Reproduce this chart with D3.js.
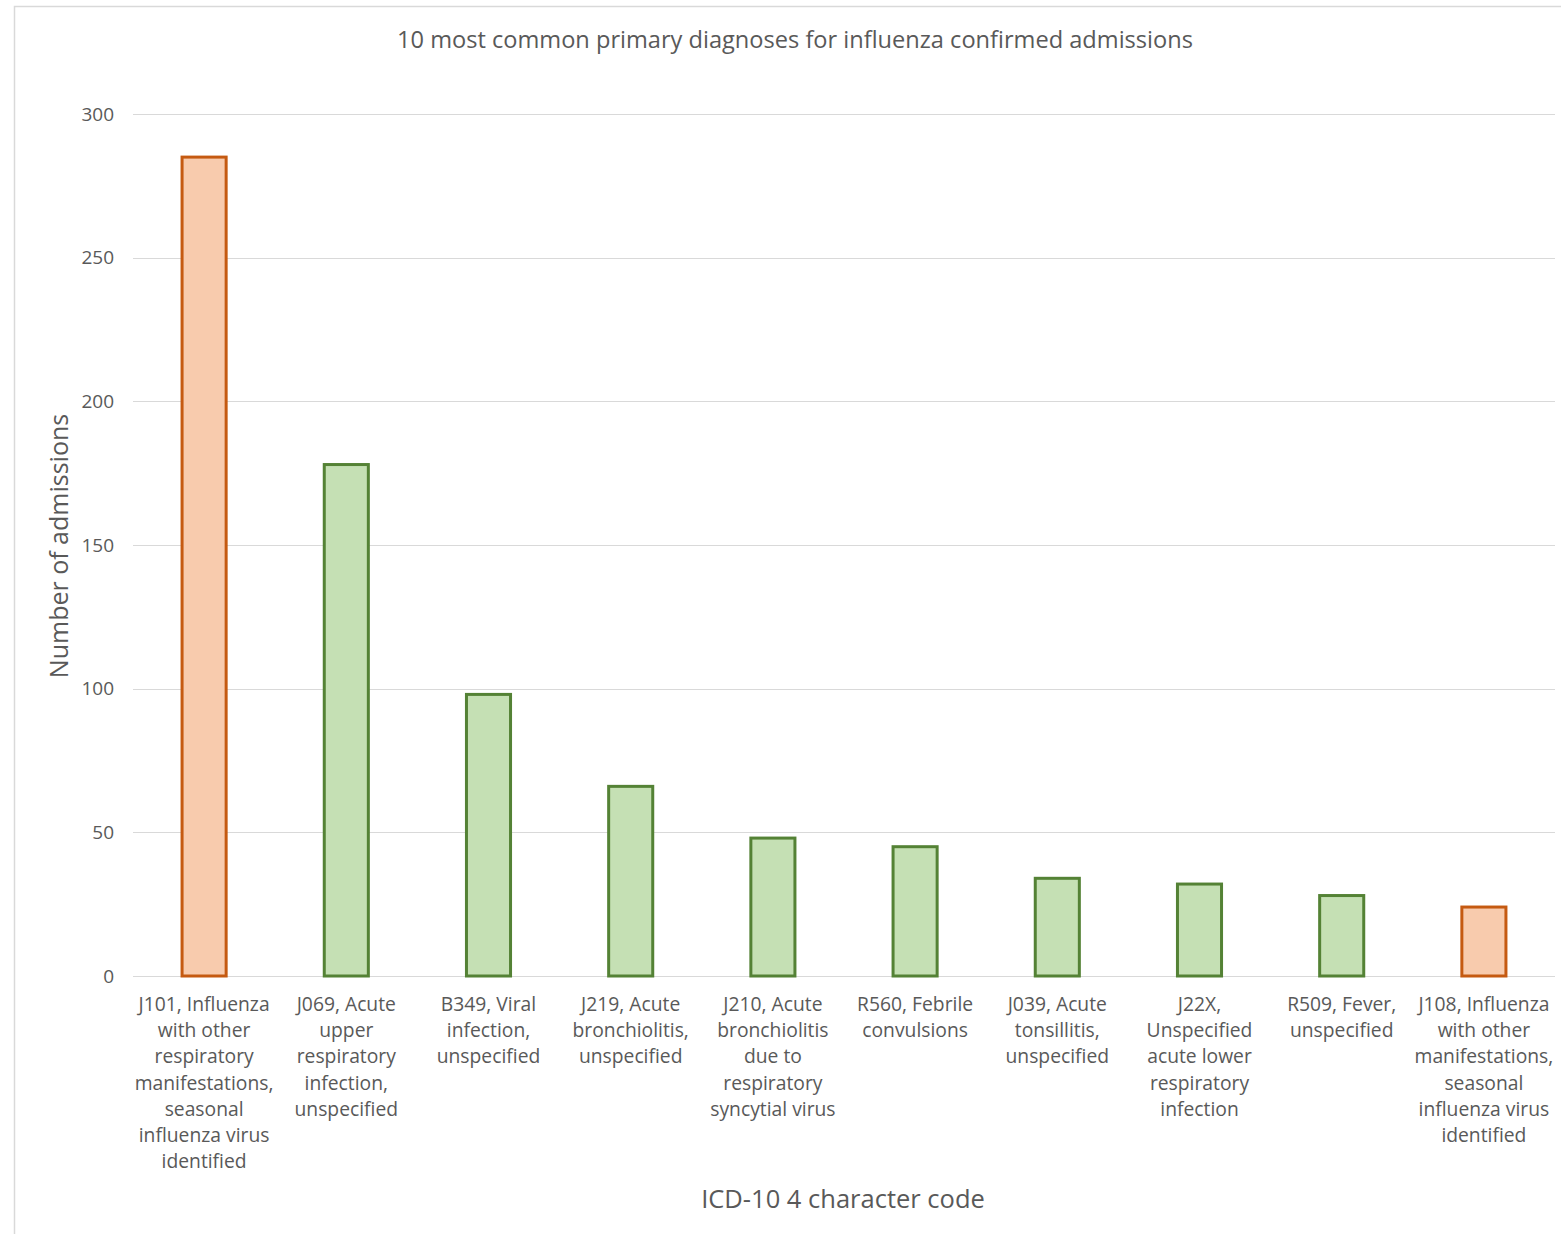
<!DOCTYPE html>
<html lang="en">
<head>
<meta charset="UTF-8">
<script src="https://d3js.org/d3.v7.min.js"></script>
<style>
  body { margin: 0; background: #fff; }
  text { font-family: "Open Sans", sans-serif; fill: #595959; }
  .grid line { stroke: #d9d9d9; stroke-width: 1; }
</style>
</head>
<body>
<svg width="1561" height="1234"></svg>
<script>
// data
const codes = ["J101", "J069", "B349", "J219", "J210", "R560", "J039", "J22X", "R509", "J108"];
const labels = [
  "J101, Influenza\nwith other\nrespiratory\nmanifestations,\nseasonal\ninfluenza virus\nidentified",
  "J069, Acute\nupper\nrespiratory\ninfection,\nunspecified",
  "B349, Viral\ninfection,\nunspecified",
  "J219, Acute\nbronchiolitis,\nunspecified",
  "J210, Acute\nbronchiolitis\ndue to\nrespiratory\nsyncytial virus",
  "R560, Febrile\nconvulsions",
  "J039, Acute\ntonsillitis,\nunspecified",
  "J22X,\nUnspecified\nacute lower\nrespiratory\ninfection",
  "R509, Fever,\nunspecified",
  "J108, Influenza\nwith other\nmanifestations,\nseasonal\ninfluenza virus\nidentified"
];
const admissions = [285, 178, 98, 66, 48, 45, 34, 32, 28, 24];
const influenzaCodes = ["J101", "J108"]; // highlighted in orange
const yTicks = [0, 50, 100, 150, 200, 250, 300];

const svg = d3.select("svg");

// chart border
svg.append("rect")
  .attr("x", 14.5).attr("y", 6.5)
  .attr("width", 1600).attr("height", 1300)
  .attr("fill", "none").attr("stroke", "#d9d9d9").attr("stroke-width", 1.5);

const x = d3.scaleBand().domain(codes).range([133, 1555]).padding(0);
const y = d3.scaleLinear().domain([0, 300]).range([976, 114]);

// gridlines
svg.append("g").attr("class", "grid")
  .selectAll("line").data(yTicks).join("line")
  .attr("x1", 133).attr("x2", 1555)
  .attr("y1", d => Math.round(y(d)) + 0.5).attr("y2", d => Math.round(y(d)) + 0.5);

// y tick labels
svg.append("g")
  .selectAll("text").data(yTicks).join("text")
  .attr("x", 114).attr("y", d => y(d))
  .attr("dy", "0.35em")
  .attr("text-anchor", "end")
  .style("font-size", "19px")
  .text(d => d);

// bars
const barW = x.bandwidth() * 0.31;
svg.append("g")
  .selectAll("rect").data(codes).join("rect")
  .attr("x", d => x(d) + (x.bandwidth() - barW) / 2)
  .attr("y", (d, i) => y(admissions[i]))
  .attr("width", barW)
  .attr("height", (d, i) => y(0) - y(admissions[i]))
  .attr("fill", d => influenzaCodes.includes(d) ? "#f8cbad" : "#c5e0b4")
  .attr("stroke", d => influenzaCodes.includes(d) ? "#c55a11" : "#548235")
  .attr("stroke-width", 3);

// category labels
svg.append("g")
  .selectAll("text").data(codes).join("text")
  .attr("x", d => x(d) + x.bandwidth() / 2)
  .attr("y", 1011)
  .attr("text-anchor", "middle")
  .style("font-size", "19.3px")
  .each(function(d, i) {
    const t = d3.select(this);
    labels[i].split("\n").forEach((line, k) => {
      t.append("tspan")
        .attr("x", x(d) + x.bandwidth() / 2)
        .attr("dy", k === 0 ? 0 : 26.2)
        .text(line);
    });
  });

// title
svg.append("text")
  .attr("x", 795).attr("y", 48)
  .attr("text-anchor", "middle")
  .style("font-size", "23.6px")
  .text("10 most common primary diagnoses for influenza confirmed admissions");

// axis titles
svg.append("text")
  .attr("x", 843).attr("y", 1208)
  .attr("text-anchor", "middle")
  .style("font-size", "25.5px")
  .text("ICD-10 4 character code");

svg.append("text")
  .attr("transform", "translate(68,546) rotate(-90)")
  .attr("text-anchor", "middle")
  .style("font-size", "25px")
  .text("Number of admissions");
</script>
</body>
</html>
